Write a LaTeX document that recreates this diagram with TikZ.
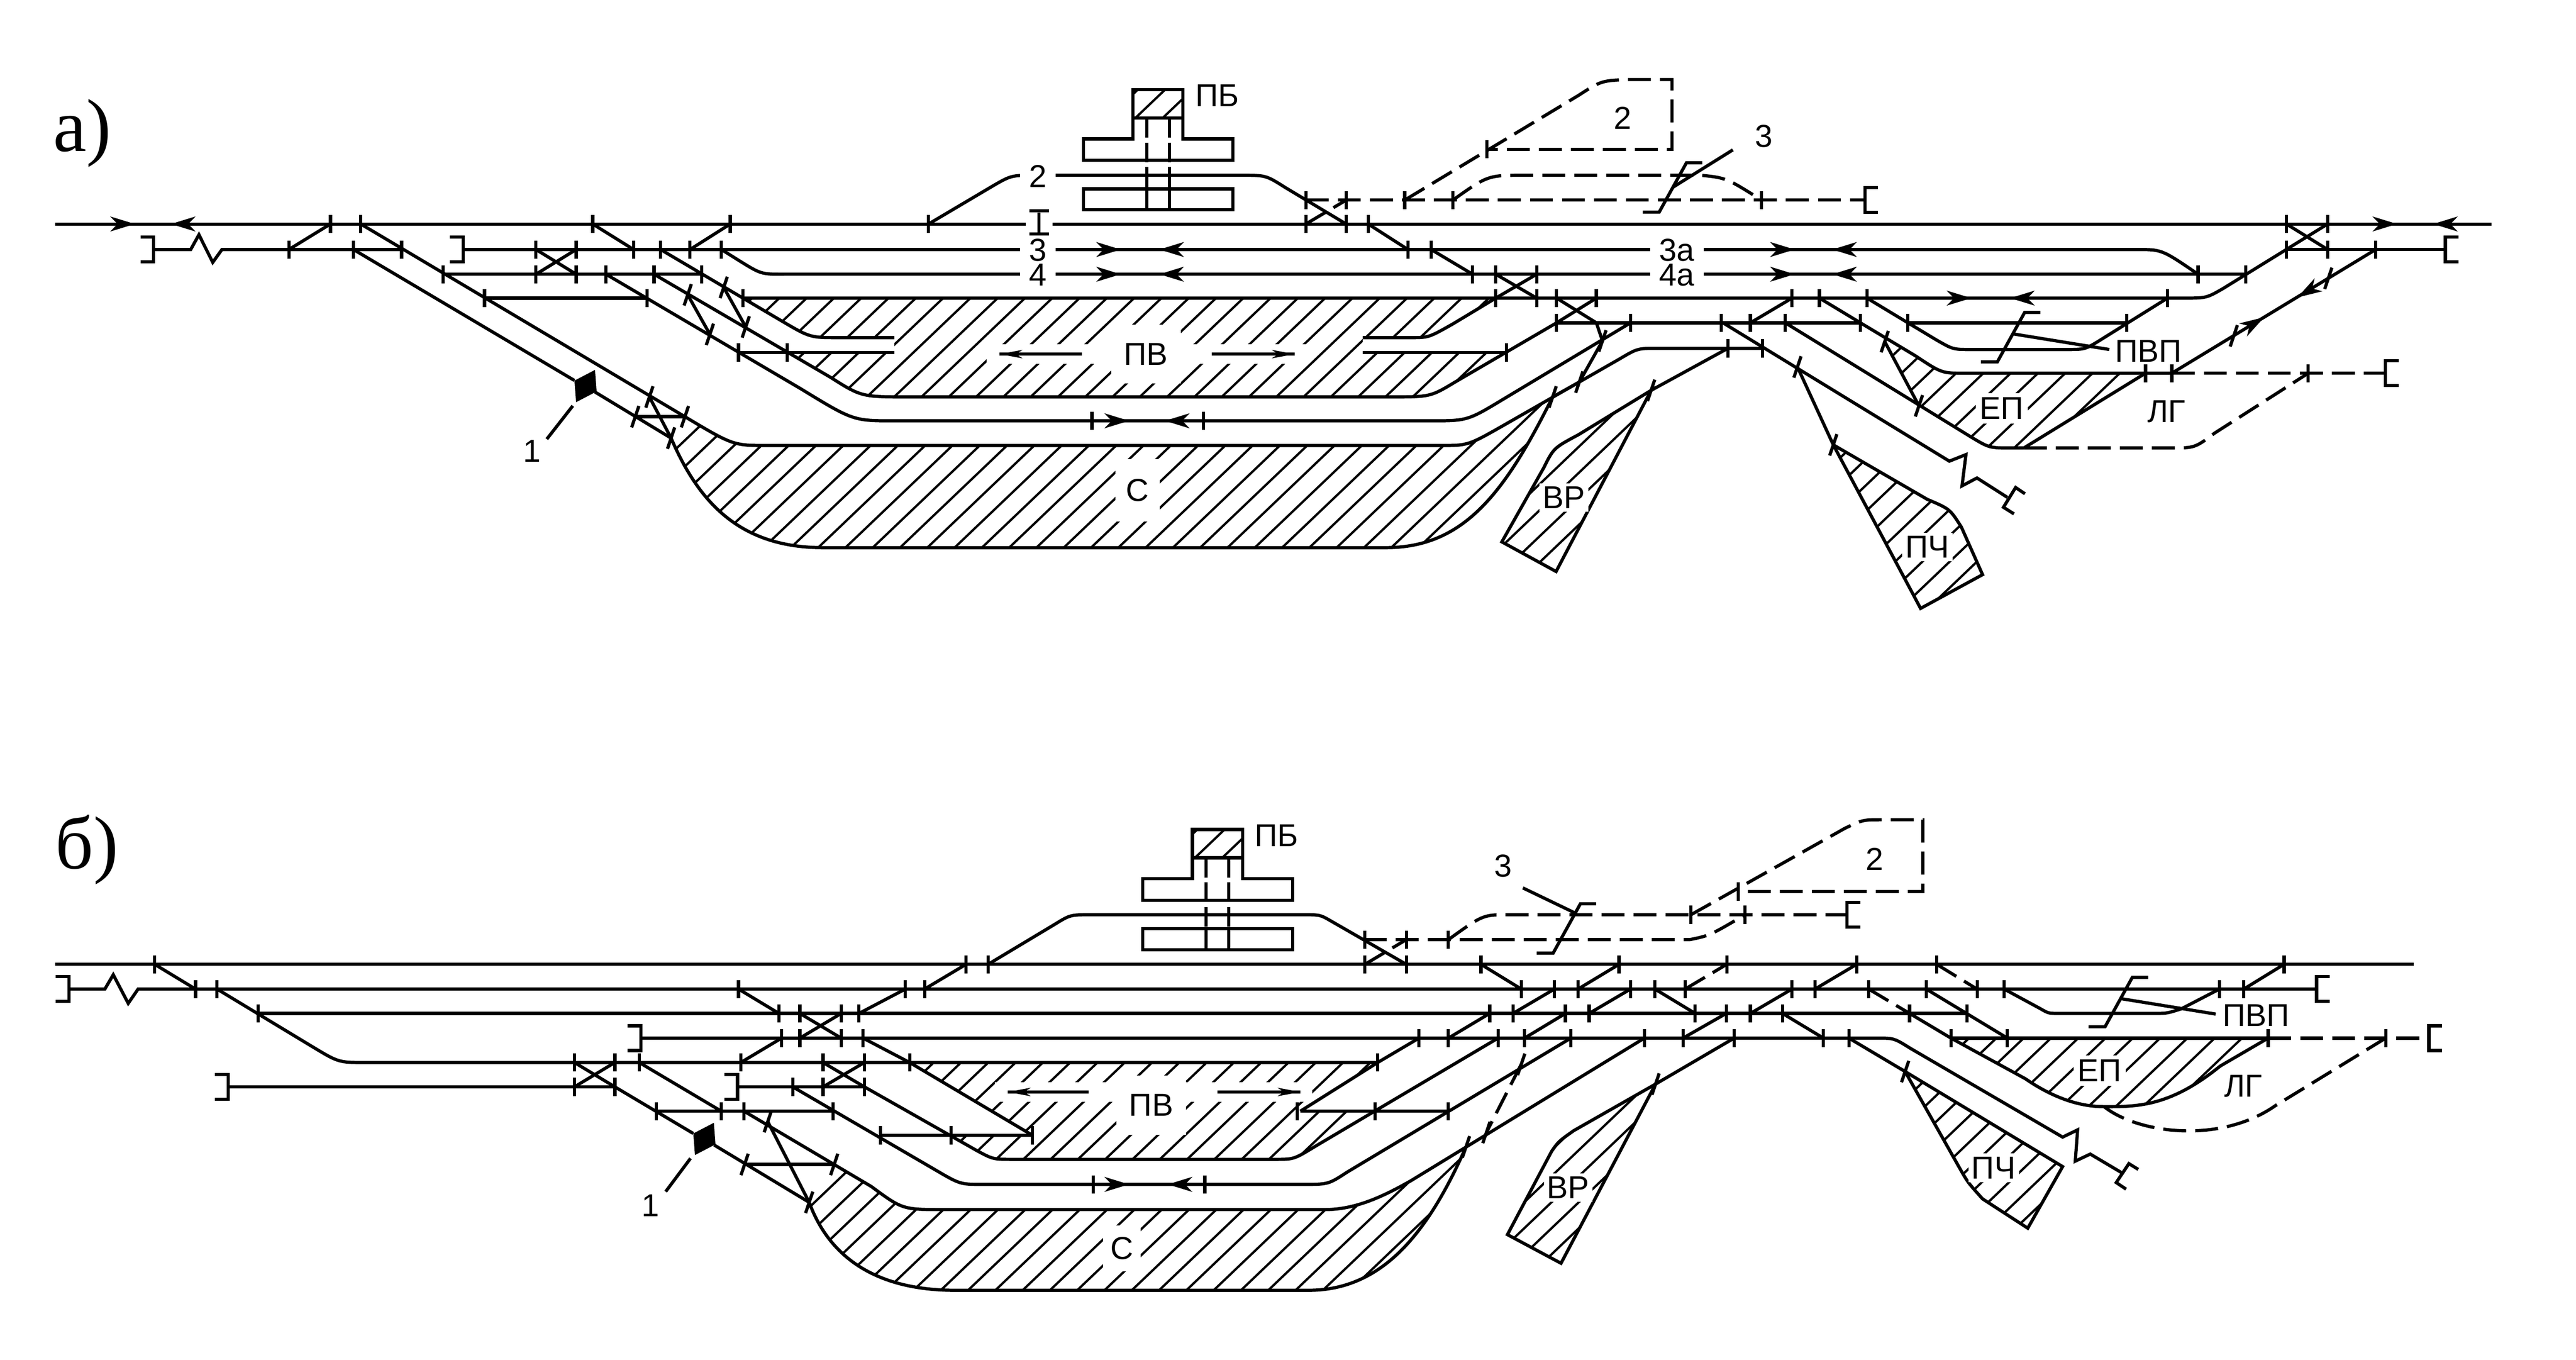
\documentclass[tikz,border=0pt]{standalone}
\usepackage{fontspec}
\setmainfont{Liberation Sans}
\newfontfamily\panelfont{Liberation Serif}

\tikzset{
	rail/.style={line width=0.039cm, line join=miter},
	dashrail/.style={rail, dash pattern=on 0.28cm off 0.11cm},
	hatchline/.style={line width=0.028cm},
	lbl/.style={font=\fontsize{11}{11}\selectfont, inner sep=0pt},
	gaplbl/.style={lbl, fill=white, inner xsep=0.11cm, inner ysep=0pt},
	zonelbl/.style={lbl, fill=white, inner sep=0.07cm},
	panellbl/.style={font=\panelfont\fontsize{26}{26}\selectfont, inner sep=0pt}
}

% vertical and slanted marks on the tracks
\newcommand{\ticks}[2]{\foreach \tx in {#2} \draw[rail] (\tx,#1-5.5) -- (\tx,#1+5.5);}
\newcommand{\slanttick}[2]{\draw[rail] (#1-2.2,#2+6.5) -- (#1+2.2,#2-6.5);}
% buffer stops
\newcommand{\brkl}[2]{\draw[rail] (#1-8,#2-7.5) -- (#1,#2-7.5) -- (#1,#2+7.5) -- (#1-8,#2+7.5);}
\newcommand{\brkr}[2]{\draw[rail] (#1+8,#2-7.5) -- (#1,#2-7.5) -- (#1,#2+7.5) -- (#1+8,#2+7.5);}
% arrow heads
\newcommand{\tipr}[3]{\fill[shift={(#1,#2)}, rotate=#3] (0,0) -- (-15,-4.6) -- (-10.5,0) -- (-15,4.6) -- cycle;}
\newcommand{\tips}[3]{\fill[shift={(#1,#2)}, rotate=#3] (0,0) -- (-14,-2.6) -- (-10,0) -- (-14,2.6) -- cycle;}
\newcommand{\zmark}[2]{\draw[rail] (#1,#2) -- ++(10,0) -- ++(16.6,-30) -- ++(9.6,0);}
\newcommand{\sigblock}[2]{\fill (#1,#2) -- ++(12.5,-6.5) -- ++(1,13.1) -- ++(-12.5,6.5) -- cycle;}
\newcommand{\hatchzone}[1]{
	\begin{scope}
		\clip #1;
		\foreach \hx in {0,16.6,...,2400}{
			\draw[hatchline] (\hx,0) -- ++(-869,828);
		}
	\end{scope}
}
\newcommand{\buildingset}[2]{
	\begin{scope}[shift={(#1,#2)}]
		\hatchzone{(30.2,0) rectangle (60.7,17.2)}
		\draw[rail] (30.2,0) rectangle (60.7,17.2);
		\draw[rail] (30.2,17.2) -- (30.2,29.9) -- (0,29.9) -- (0,43) -- (91.1,43) -- (91.1,29.9) -- (60.7,29.9) -- (60.7,17.2);
		\draw[rail] (0,60.3) rectangle (91.1,73);
		\draw[dashrail, dash pattern=on 0.24cm off 0.06cm] (38.6,17.2) -- (38.6,60.3);
		\draw[dashrail, dash pattern=on 0.24cm off 0.06cm] (52.4,17.2) -- (52.4,60.3);
		\draw[rail] (38.6,60.3) -- (38.6,73);
		\draw[rail] (52.4,60.3) -- (52.4,73);
	\end{scope}
}

\begin{document}
\begin{tikzpicture}[x=0.02004cm, y=-0.02006cm]
\useasboundingbox (0,0) rectangle (1566.87,825.6);

% ---- a) ----
\hatchzone{(452,181) -- (475,194.6) .. controls (492.7,205) .. (510,205) -- (544,205) -- (544,214) -- (478.8,214) -- (505,229) .. controls (524,241) .. (553,241) -- (845,241) .. controls (870,241) .. (885,232) -- (916.2,214) -- (828.9,214) -- (828.9,205) -- (858,205) .. controls (869,205) .. (884,196.5) -- (909.8,181) -- cycle}
\hatchzone{(416.6,253) .. controls (446,270.5) .. (467,270.5) -- (876,270.5) .. controls (893,270.5) .. (915,258) -- (944.4,241) .. controls (915,300) and (890,332.5) .. (843,332.5) -- (500.6,332.5) .. controls (450,332.5) and (425,305) .. (408.2,266) -- cycle}
\hatchzone{(1004.3,237) -- (960,264) .. controls (945,272) .. (939,284) -- (913.5,329) -- (946.5,347) -- cycle}
\hatchzone{(1115.1,270.1) -- (1168.2,369.4) -- (1205.9,348.9) -- (1193,320) .. controls (1186,309) .. (1172.3,303.2) -- cycle}
\hatchzone{(1146.4,205) -- (1165,216) .. controls (1181,226.6) .. (1195,226.6) -- (1305,226.6) -- (1231,272) -- (1224,272) .. controls (1210,272) .. (1199,265.4) -- (1167.2,246.4) -- cycle}
\draw[white, line width=0.24cm] (600,215) -- (795,215);

\buildingset{658.9}{54.4}

% main and long tracks
\draw[rail] (33.6,136) -- (1515.6,136);
\draw[rail] (93.4,151.5) -- (116,151.5) -- (121,142.5) -- (129.4,159.3) -- (135,151.5) -- (244.3,151.5);
\draw[rail] (281.6,151.5) -- (1300,151.5) .. controls (1315,151.5) .. (1337,166.5);
\draw[rail] (269.5,166.5) -- (426.7,166.5);
\draw[rail] (477,166.5) -- (1366,166.5);
\draw[rail] (438.8,151.5) -- (450,158.5) .. controls (463,166.5) .. (477,166.5);
\draw[rail] (294.7,181) -- (393.5,181);
\draw[rail] (452,181) -- (1328,181) .. controls (1342,181) .. (1352,175.3) -- (1415.8,136);
\draw[rail] (946.8,196) -- (1131.6,196);
\draw[rail] (1160.5,196) -- (1293.6,196);
\draw[rail] (449.2,214) -- (544,214);
\draw[rail] (828.9,214) -- (916.2,214);
\draw[rail] (1390.7,151.5) -- (1487.4,151.5);

% left end
\draw[rail] (175.7,151.5) -- (201,136);
\draw[rail] (219.4,136) -- (416.6,253) .. controls (446,270.5) .. (467,270.5) -- (876,270.5) .. controls (893,270.5) .. (915,258) -- (985,218) .. controls (996,211.5) .. (1008,211.5) -- (1072.1,211.5);
\draw[rail] (215,151.5) -- (349.4,231);
\draw[rail] (361.9,238) -- (408.2,266) .. controls (425,305) and (450,332.5) .. (500.6,332.5) -- (843,332.5) .. controls (890,332.5) and (915,300) .. (944.4,241);
\draw[rail] (386.4,253) -- (416.6,253);
\draw[rail] (395,241) -- (408.2,266);
\draw[rail] (360.5,136) -- (385.4,151.5);
\draw[rail] (444.2,136) -- (419.7,151.5);
\draw[rail] (326,166.5) -- (350.5,151.5);
\draw[rail] (326,151.5) -- (350.5,166.5);
\draw[rail] (401.8,151.5) -- (475,194.6) .. controls (492.7,205) .. (510,205) -- (544,205);
\draw[rail] (368.6,166.5) -- (487,236) .. controls (519,255.5) .. (544,255.5) -- (870,255.5) .. controls (892.6,255.5) .. (915,242) -- (991.8,196);
\draw[rail] (397.8,166.5) -- (505,229) .. controls (524,241) .. (553,241) -- (845,241) .. controls (870,241) .. (885,232) -- (946.8,196);
\draw[rail] (418.3,179) -- (431.8,203);
\draw[rail] (440.2,174.5) -- (453.6,198.5);

% middle switches
\draw[rail] (564.8,136) -- (602.7,113.6) .. controls (615,106.4) .. (630,106.4) -- (755,106.4) .. controls (770,106.4) .. (782,114) -- (818.8,136);
\draw[rail] (832.2,136) -- (856.4,151.5);
\draw[rail] (870.5,151.5) -- (895.7,166.5);
\draw[rail] (909.8,166.5) -- (934.7,181);
\draw[rail] (909.8,181) -- (934.7,166.5);
\draw[rail] (828.9,205) -- (858,205) .. controls (869,205) .. (884,196.5) -- (909.8,181);
\draw[rail] (946.8,181) -- (971,196) -- (974.7,207) -- (960.6,232);
\draw[rail] (946.8,196) -- (971,181);

% dashed tracks
\draw[dashrail] (794.3,121.5) -- (1134.3,121.5);
\draw[dashrail] (794.3,136) -- (818.8,121.5);
\draw[dashrail] (854.4,121.5) -- (960,58) .. controls (974,49) .. (990,48.3) -- (1017,48.3) -- (1017,90.7) -- (904.5,90.7);
\draw[dashrail] (883.7,121.5) .. controls (905,106.4) .. (927,106.4) -- (1034.5,106.4) .. controls (1050,108) .. (1071.5,121.5);

% right end
\draw[rail] (1064.7,196) -- (1090,181);
\draw[rail] (1106.7,181) -- (1131.6,196) -- (1165,216) .. controls (1181,226.6) .. (1195,226.6) -- (1321,226.6);
\draw[rail] (1135.6,181) -- (1160.5,196) -- (1178,206.5) .. controls (1188,212.2) .. (1199,212.2) -- (1256,212.2) .. controls (1268,212.2) .. (1276,207.4) -- (1318.4,181);
\draw[rail] (1051,211.5) -- (1004.3,237);
\draw[rail] (1048,196) -- (1185.7,280) -- (1195.8,276) -- (1193.4,295) -- (1202.5,290.2) -- (1221,302);
\draw[rail] (1231.7,299.8) -- (1226,296) -- (1218.6,308) -- (1225,312);
\draw[rail] (1085.9,196) -- (1199,265.4) .. controls (1210,272) .. (1224,272) -- (1231,272);
\draw[rail] (1146.4,207.4) -- (1167.2,246.4);
\draw[rail] (1305,226.6) -- (1231,272);
\draw[rail] (1321,226.6) -- (1445,151.5);
\draw[rail] (1390.7,136) -- (1415.8,151.5);
\draw[dashrail] (1321,226.6) -- (1451,226.6);
\draw[dashrail] (1231,272) -- (1320,272) .. controls (1335,272) .. (1347,263) -- (1404,226.6);
\draw[rail] (1093.3,222.8) -- (1115.1,270.1) -- (1168.2,369.4) -- (1205.9,348.9) -- (1193,320) .. controls (1186,309) .. (1172.3,303.2) -- (1115.1,270.1);
\draw[rail] (960.6,232) -- (944.4,241);
\draw[rail] (1004.3,237) -- (960,264) .. controls (945,272) .. (939,284) -- (913.5,329) -- (946.5,347) -- cycle;

% marks
\ticks{136}{201,219.4,360.5,444.2,564.8,794.3,818.8,832.2,1390.7,1415.8}
\ticks{151.5}{175.7,215,244.3,326,350.5,385.4,401.8,419.7,438.8,856.4,870.5,1390.7,1415.8,1445}
\ticks{166.5}{269.5,326,350.5,368.6,397.8,426.7,895.7,909.8,934.7,1337,1366}
\ticks{181}{294.7,393.5,452,909.8,934.7,946.8,971,1090,1106.7,1135.6,1318.4}
\ticks{196}{946.8,991.8,1047,1064.7,1085.9,1131.6,1160.5,1293.6}
\ticks{211.5}{1051,1072.1}
\ticks{214}{449.2,478.8,916.2}
\ticks{226.6}{1305,1321,1404}
\ticks{255.5}{664.2,732.1}
\ticks{121.5}{794.3,818.8,854.4,883.7,1071.5}
\ticks{90.7}{904.5}
\foreach \sx/\sy in {418.3/179,431.8/203,440.2/174.5,453.6/198.5,395/241,408.2/266,386.4/253,416.6/253,944.4/241,960.6/232,974.7/207,1004.3/237,1093.3/222.8,1115.1/270.1,1146.4/207.4,1167.2/246.4,1358.7/203.9,1416.2/169}{
	\slanttick{\sx}{\sy}
}
\brkl{93.4}{151.5}
\brkl{281.6}{151.5}
\brkr{1134.3}{121.5}
\brkr{1451}{226.6}
\brkr{1487.4}{151.5}
\sigblock{349.4}{231.1}
\draw[rail] (332.6,266.6) -- (348.4,246.4);
\zmark{999.2}{128.8}
\draw[rail] (1017.7,113.6) -- (1054,91);
\zmark{1204.9}{219.7}
\draw[rail] (1224.3,202.7) -- (1283,212.2);

% arrows
\tipr{82}{136}{0}
\tipr{104}{136}{180}
\tipr{1458}{136}{0}
\tipr{1480}{136}{180}
\foreach \ay in {151.5,166.5}{
	\tipr{681.7}{\ay}{0}
	\tipr{705.2}{\ay}{180}
	\tipr{1091.6}{\ay}{0}
	\tipr{1114.5}{\ay}{180}
}
\tipr{1199}{181}{0}
\tipr{1222.7}{181}{180}
\tipr{686.7}{255.5}{0}
\tipr{708.6}{255.5}{180}
\tipr{1377.2}{192.6}{31}
\tipr{1397.4}{180.6}{211}
\draw[rail] (608,215) -- (658,215);
\tips{608}{215}{180}
\draw[rail] (737,215) -- (787.5,215);
\tips{787.5}{215}{0}

% labels
\node[panellbl] (lblA) at (50,81) {а)};
\node[gaplbl] (lblTwoA) at (631.3,107) {2};
\node[gaplbl] (lblOneA) at (632,136) {I};
\draw[rail] (626,128) -- (638,128);
\draw[rail] (626,142) -- (638,142);
\node[gaplbl] (lblThreeA) at (631.3,152) {3};
\node[gaplbl] (lblFourA) at (631.3,167) {4};
\node[gaplbl] (lblThreeAa) at (1020,152) {3а};
\node[gaplbl] (lblFourAa) at (1020,167) {4а};
\node[lbl] (lblPBa) at (740.5,58) {ПБ};
\node[lbl] (lblBranchA) at (987,71.8) {2};
\node[lbl] (lblLeadA) at (1073,82.8) {3};
\node[lbl] (lblSigA) at (323.6,274) {1};
\node[zonelbl, minimum width=0.85cm, minimum height=0.72cm] (lblPVa) at (697,215) {ПВ};
\node[zonelbl, minimum width=0.54cm, minimum height=0.76cm] (lblSa) at (691.8,297.6) {С};
\node[zonelbl, inner sep=0.04cm] (lblVRa) at (951.2,302) {ВР};
\node[zonelbl, inner sep=0.04cm] (lblPCha) at (1172.3,332) {ПЧ};
\node[zonelbl, inner sep=0.05cm] (lblEPa) at (1217.6,248) {ЕП};
\node[lbl] (lblLGa) at (1317.8,250) {ЛГ};
\node[gaplbl, inner xsep=0.04cm] (lblPVPa) at (1306.7,213.3) {ПВП};

% ---- b) ----
\hatchzone{(553.3,645.1) -- (838,645.1) -- (790.9,674.7) -- (836.3,674.7) -- (800,696) .. controls (787,703.9) .. (775.8,703.9) -- (616.2,703.9) .. controls (604,703.9) .. (594,698.5) -- (578.5,689.3) -- (628,689.3) -- cycle}
\hatchzone{(507.4,707) -- (530,720.4) .. controls (549,734.4) .. (574,734.4) -- (806,734.4) .. controls (825,734.4) and (842,726) .. (858,717) -- (891.7,696.3) .. controls (868,750) and (840,783.4) .. (796,783.4) -- (580.9,783.4) .. controls (535,783.4) and (505,765) .. (492.2,730) -- cycle}
\hatchzone{(1007,658.2) -- (957.2,686.5) .. controls (948,693) .. (943.8,699) -- (916.9,749.6) -- (949.5,767) -- cycle}
\hatchzone{(1158.8,650.6) -- (1254.6,708.3) -- (1233.4,745.7) -- (1205.9,727.9) .. controls (1197,718) .. (1192.4,710) -- cycle}
\hatchzone{(1186.7,630.3) -- (1379.6,630.3) -- (1350.4,647.3) .. controls (1320,671.9) and (1300,672) .. (1279.8,671.9) .. controls (1262,672) and (1245,664) .. (1232,655) -- cycle}
\draw[white, line width=0.24cm] (605,663) -- (798,663);

\buildingset{695.1}{503.6}

% main and long tracks
\draw[rail] (33.6,585.5) -- (1468,585.5);
\draw[rail] (42,600.5) -- (63.8,600.5) -- (68.9,591.8) -- (78,609.2) -- (84,600.5) -- (1409.1,600.5);
\draw[rail] (156.9,615.3) -- (1196.5,615.3);
\draw[rail] (389.8,630.3) -- (1142,630.3) .. controls (1152,630.3) .. (1162,636.5) -- (1254.6,690.4) -- (1263.7,686) -- (1262.3,705) -- (1271.4,700.7) -- (1291.5,712.6);
\draw[rail] (1300.6,710) -- (1294.9,706.5) -- (1287.2,718) -- (1293.2,722);
\draw[rail] (1186.7,630.3) -- (1379.6,630.3);
\draw[dashrail] (1379.6,630.3) -- (1477.4,630.3);
\draw[rail] (132,600.5) -- (190,635.5) .. controls (206,645.1) .. (222,645.1) -- (838,645.1);
\draw[rail] (138.8,659.9) -- (374,659.9);
\draw[rail] (448.6,659.9) -- (525.8,659.9);
\draw[rail] (399.2,674.7) -- (506.7,674.7);
\draw[rail] (790.9,674.7) -- (881,674.7);
\draw[rail] (535.5,689.3) -- (628,689.3);
\draw[rail] (452.9,707) -- (507.4,707);

% left end
\draw[rail] (94.1,585.5) -- (118.9,600.5);
\draw[rail] (349.4,645.1) -- (374,659.9) -- (421.7,688.2);
\draw[rail] (349.4,659.9) -- (374,645.1);
\draw[rail] (388.8,645.1) -- (438.8,674.7);
\draw[rail] (434.4,695.2) -- (492.2,730) .. controls (505,765) and (535,783.4) .. (580.9,783.4) -- (796,783.4) .. controls (840,783.4) and (868,750) .. (891.7,696.3);
\draw[rail] (452.6,674.7) -- (530,720.4) .. controls (549,734.4) .. (574,734.4) -- (806,734.4) .. controls (825,734.4) and (842,726) .. (858,717) -- (1000.2,630.3);
\draw[rail] (467,681) -- (492.2,730);
\draw[rail] (449.2,600.5) -- (473.8,615.3);
\draw[rail] (475.4,630.3) -- (450.6,645.1);
\draw[rail] (486.5,615.3) -- (511.7,630.3);
\draw[rail] (486.5,630.3) -- (511.7,615.3);
\draw[rail] (500.6,645.1) -- (525.8,659.9) -- (594,698.5) .. controls (604,703.9) .. (616.2,703.9) -- (775.8,703.9) .. controls (787,703.9) .. (800,696) -- (911.2,630.3);
\draw[rail] (500.6,659.9) -- (525.8,645.1);
\draw[rail] (482.2,659.9) -- (569.1,710.4) .. controls (584,719.1) .. (597.7,719.1) -- (792.6,719.1) .. controls (808,719.1) .. (819.5,711.6) -- (955.5,630.3);
\draw[rail] (525,630.3) -- (553.3,645.1) -- (628,689.3);
\draw[rail] (522.5,615.3) -- (550.7,600.5);
\draw[rail] (562.4,600.5) -- (587.6,585.5);

% middle switches
\draw[rail] (601,585.5) -- (641.4,561.3) .. controls (651,555.4) .. (663.2,555.4) -- (792.6,555.4) .. controls (803,555.4) .. (809.4,559.1) -- (855.4,585.5);
\draw[rail] (838,645.1) -- (790.9,674.7);
\draw[rail] (838,645.1) -- (863.1,630.3);
\draw[rail] (881,630.3) -- (906.1,615.3);
\draw[rail] (920.3,615.3) -- (945.5,600.5);
\draw[rail] (900.8,585.5) -- (925.3,600.5);
\draw[rail] (927.3,630.3) -- (952.2,615.3);
\draw[rail] (959.9,600.5) -- (984.8,585.5);
\draw[rail] (966.6,615.3) -- (991.8,600.5);
\draw[rail] (1006.6,600.5) -- (1031.1,615.3);
\draw[rail] (1023.7,630.3) -- (1050,615.3);
\draw[rail] (1007,658.2) -- (1054.8,630.3);

% dashed tracks
\draw[dashrail] (829.5,570.5) -- (1027.8,570.5) .. controls (1040,568) .. (1061.4,555.4);
\draw[dashrail] (830.2,585.5) -- (855.4,570.5);
\draw[dashrail] (881,570.5) .. controls (902,555.4) .. (917,555.4) -- (1123.5,555.4);
\draw[dashrail] (1028.5,555.4) -- (1122,503) .. controls (1133,497.7) .. (1145,497.7) -- (1169.6,497.7) -- (1169.6,541.3) -- (1057.4,541.3);
\draw[dashrail] (1025,600.5) -- (1050.3,585.5);
\draw[dashrail] (1136.6,600.5) -- (1161.5,615.3);
\draw[dashrail] (1178,585.5) -- (1202.5,600.5);
\draw[dashrail] (925.3,646.2) -- (904.1,687.6);

% right end
\draw[rail] (1064.7,615.3) -- (1090,600.5);
\draw[rail] (1104,600.5) -- (1129.3,585.5);
\draw[rail] (1084.2,615.3) -- (1109.1,630.3);
\draw[rail] (1124.6,630.3) -- (1158.8,650.6);
\draw[rail] (1158.8,650.6) -- (1254.6,708.3) -- (1233.4,745.7) -- (1205.9,727.9) .. controls (1197,718) .. (1192.4,710) -- cycle;
\draw[rail] (1161.5,615.3) -- (1186.7,630.3) -- (1232,655) .. controls (1245,664) and (1262,672) .. (1279.8,671.9) .. controls (1300,672) and (1320,671.9) .. (1350.4,647.3) -- (1379.6,630.3);
\draw[rail] (1171.6,600.5) -- (1221,630.3);
\draw[rail] (1219,600.5) -- (1241.2,612.5) .. controls (1246,615.3) .. (1252.9,615.3) -- (1310,615.3) .. controls (1318,615.3) .. (1326.8,612.5) -- (1350,600.5);
\draw[rail] (1364.8,600.5) -- (1389.3,585.5);
\draw[dashrail] (1279.8,671.9) .. controls (1300,688) and (1350,695) .. (1384,671.3) -- (1451.1,630.3);
\draw[rail] (1007,658.2) -- (957.2,686.5) .. controls (948,693) .. (943.8,699) -- (916.9,749.6) -- (949.5,767) -- cycle;

% marks
\ticks{585.5}{94.1,587.6,601,830.2,855.4,900.8,984.8,1050.3,1129.3,1178,1389.3}
\ticks{600.5}{118.9,132,449.2,550.7,562.4,925.3,945.5,959.9,991.8,1006.6,1025,1090,1104,1136.6,1171.6,1202.8,1219,1350,1364.8}
\ticks{615.3}{156.9,473.8,486.5,511.7,522.5,906.1,920.3,952.2,966.6,1031.1,1050,1064.7,1084.2,1161.5,1196.5}
\ticks{630.3}{475.4,486.5,511.7,525,863.1,881,911.2,927.3,955.5,1000.2,1023.7,1054.8,1109.1,1124.6,1186.7,1221,1379.6,1451.1}
\ticks{645.1}{349.4,374,388.8,450.6,500.6,525.8,553.3,838}
\ticks{659.9}{349.4,374,482.2,500.6,525.8}
\ticks{674.7}{399.2,438.8,452.6,506.7,789,836.3,881}
\ticks{689.3}{535.5,578.5,628}
\ticks{719.1}{664.9,732.8}
\ticks{570.5}{830.2,855.4,881}
\ticks{555.4}{1028.5,1061.4}
\ticks{541.3}{1057.4}
\foreach \sx/\sy in {467/681,492.2/730,452.9/707,507.4/707,891.7/696.3,904.1/687.6,925.3/646.2,1007/658.2,1158.8/650.6}{
	\slanttick{\sx}{\sy}
}
\brkl{42}{600.5}
\brkl{389.8}{630.3}
\brkl{138.8}{659.9}
\brkl{448.6}{659.9}
\brkr{1123.5}{555.4}
\brkr{1409.1}{600.5}
\brkr{1477.4}{630.3}
\sigblock{421.7}{688.2}
\draw[rail] (404.9,723.5) -- (420,703.3);
\zmark{934.7}{578.7}
\draw[rail] (926.3,539.1) -- (959,554.8);
\zmark{1270.4}{623.4}
\draw[rail] (1290.5,606.4) -- (1347.7,615.7);

% arrows
\tipr{686.7}{719.1}{0}
\tipr{710.3}{719.1}{180}
\draw[rail] (613,663) -- (662,663);
\tips{613}{663}{180}
\draw[rail] (740.5,663) -- (791,663);
\tips{791}{663}{0}

% labels
\node[panellbl] (lblB) at (53,516) {б)};
\node[lbl] (lblPBb) at (776.5,507.3) {ПБ};
\node[lbl] (lblBranchB) at (1140.3,521.7) {2};
\node[lbl] (lblLeadB) at (914.2,525.8) {3};
\node[lbl] (lblSigB) at (395.8,732) {1};
\node[zonelbl, minimum width=0.85cm, minimum height=0.72cm] (lblPVb) at (700.2,671) {ПВ};
\node[zonelbl, minimum width=0.46cm, minimum height=0.56cm] (lblSb) at (682.4,758) {С};
\node[zonelbl, inner sep=0.04cm] (lblVRb) at (953.9,721) {ВР};
\node[zonelbl, inner sep=0.04cm] (lblPChb) at (1212.6,709) {ПЧ};
\node[zonelbl, inner sep=0.05cm] (lblEPb) at (1277.1,650) {ЕП};
\node[lbl] (lblLGb) at (1364.4,659.3) {ЛГ};
\node[gaplbl, inner xsep=0.04cm] (lblPVPb) at (1372.2,616.5) {ПВП};

\end{tikzpicture}
\end{document}
